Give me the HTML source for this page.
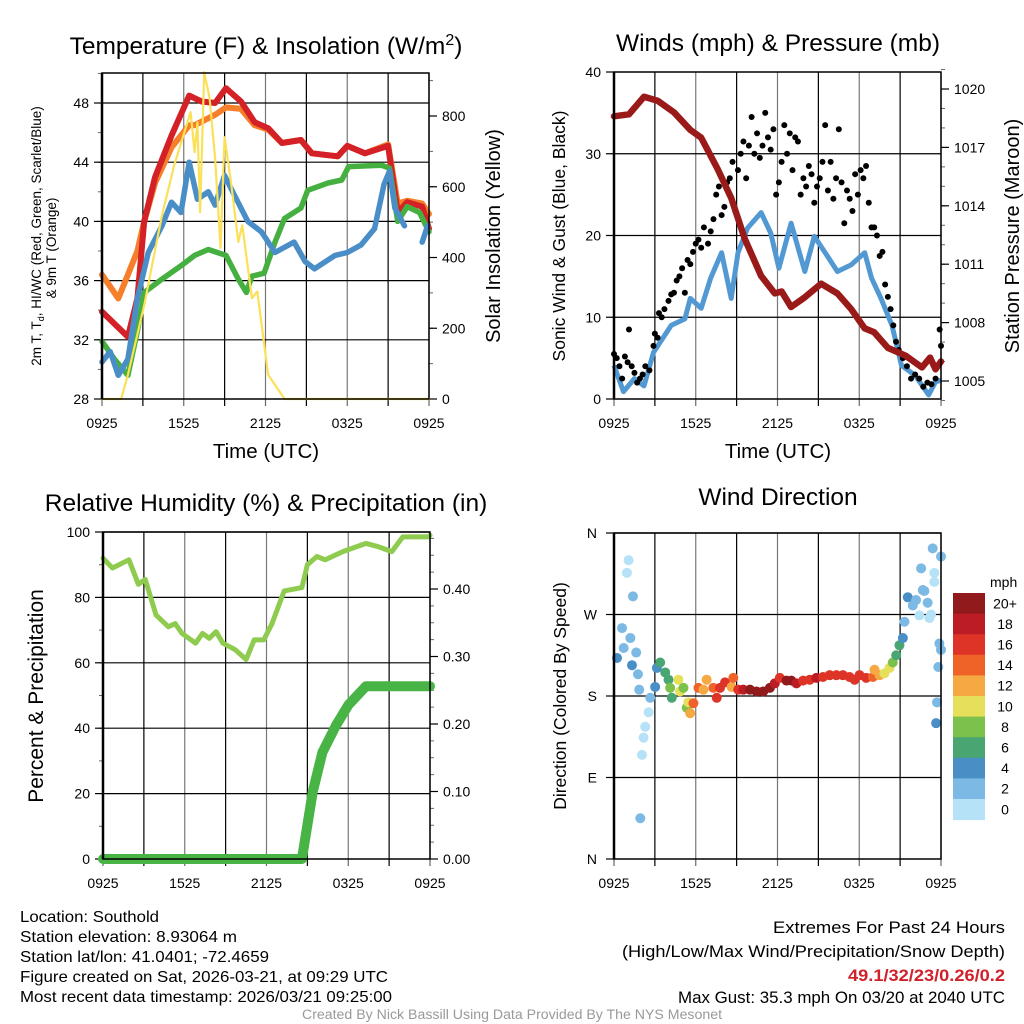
<!DOCTYPE html>
<html><head><meta charset="utf-8"><style>
html,body{margin:0;padding:0;background:#fff;}
svg{display:block;font-family:"Liberation Sans",Arial,sans-serif;}
</style></head><body>
<svg id="s" width="1024" height="1024" viewBox="0 0 1024 1024" xmlns="http://www.w3.org/2000/svg">
<rect width="1024" height="1024" fill="#fff"/>
<g id="g1"></g>
<g id="g2"></g>
<g id="g3"></g>
<g id="g4"></g>

<text x="266" y="54" font-size="24.5" text-anchor="middle">Temperature (F) &amp; Insolation (W/m<tspan dy="-9" font-size="16">2</tspan><tspan dy="9">)</tspan></text>
<text x="778" y="51" font-size="24.5" text-anchor="middle">Winds (mph) &amp; Pressure (mb)</text>
<text x="266" y="511" font-size="24.5" text-anchor="middle">Relative Humidity (%) &amp; Precipitation (in)</text>
<text x="778" y="505" font-size="24.5" text-anchor="middle">Wind Direction</text>

<text x="266" y="458" font-size="20.5" text-anchor="middle">Time (UTC)</text>
<text x="778" y="458" font-size="20.5" text-anchor="middle">Time (UTC)</text>

<text transform="translate(41,236) rotate(-90)" font-size="13.5" text-anchor="middle">2m T, T<tspan font-size="9" dy="3">d</tspan><tspan dy="-3">, HI/WC (Red, Green, Scarlet/Blue)</tspan></text>
<text transform="translate(56,248) rotate(-90)" font-size="13.5" text-anchor="middle">&amp; 9m T (Orange)</text>
<text transform="translate(500,236) rotate(-90)" font-size="20" text-anchor="middle">Solar Insolation (Yellow)</text>
<text transform="translate(565,236) rotate(-90)" font-size="17.5" text-anchor="middle">Sonic Wind &amp; Gust (Blue, Black)</text>
<text transform="translate(1019,236) rotate(-90)" font-size="20" text-anchor="middle">Station Pressure (Maroon)</text>
<text transform="translate(43,696) rotate(-90)" font-size="21" text-anchor="middle">Percent &amp; Precipitation</text>
<text transform="translate(566,696) rotate(-90)" font-size="17.5" text-anchor="middle">Direction (Colored By Speed)</text>

<g font-size="16">
<text x="20" y="922" textLength="139" lengthAdjust="spacingAndGlyphs">Location: Southold</text>
<text x="20" y="942" textLength="217" lengthAdjust="spacingAndGlyphs">Station elevation: 8.93064 m</text>
<text x="20" y="962" textLength="249" lengthAdjust="spacingAndGlyphs">Station lat/lon: 41.0401; -72.4659</text>
<text x="20" y="982" textLength="368" lengthAdjust="spacingAndGlyphs">Figure created on Sat, 2026-03-21, at 09:29 UTC</text>
<text x="20" y="1002" textLength="372" lengthAdjust="spacingAndGlyphs">Most recent data timestamp: 2026/03/21 09:25:00</text>
</g>
<g font-size="17">
<text x="773" y="933" textLength="232" lengthAdjust="spacingAndGlyphs">Extremes For Past 24 Hours</text>
<text x="622" y="957" textLength="383" lengthAdjust="spacingAndGlyphs">(High/Low/Max Wind/Precipitation/Snow Depth)</text>
<text x="848" y="981" textLength="157" lengthAdjust="spacingAndGlyphs" fill="#d0222a" font-weight="bold">49.1/32/23/0.26/0.2</text>
<text x="678" y="1003" textLength="327" lengthAdjust="spacingAndGlyphs">Max Gust: 35.3 mph On 03/20 at 2040 UTC</text>
</g>
<text x="302" y="1019" font-size="13.5" textLength="420" lengthAdjust="spacingAndGlyphs" fill="#999">Created By Nick Bassill Using Data Provided By The NYS Mesonet</text>
</svg>
<script>
// ---------- data ----------
const timeTickLabels = ["0925","1525","2125","0325","0925"];
// Panel 1 (hours since 0925 UTC)
const tempT   = [0,1.9,2.6,3.1,3.9,5.1,6.4,7.3,8.3,9.1,10.2,11.2,12.2,13.2,14.6,15.4,17.3,18,19.3,21,21.7,22.4,23.5,24];
const tempRed = [33.9,32.2,34.8,40,43,45.8,48.5,48.1,48,49,48.1,46.7,46.3,45.3,45.5,44.6,44.4,45.1,44.6,45.1,40.6,41.3,41,39.5];
const temp9mT = [0,1.2,1.9,2.6,3.1,3.9,5.1,6.4,6.8,8.3,9.1,10.2,11.2,12.2,13.2,14.6,15.4,17.3,18,19.3,21,21.7,22.4,23.5,24];
const temp9m  = [36.4,34.8,36.4,38,40,42.6,45,46.5,46.5,47.2,47.7,47.6,46.5,46.2,45.3,45.5,44.6,44.4,45.1,44.6,45.2,41.2,41.4,41.2,40.5];
const dewT    = [0,0.9,1.9,2.6,3.1,4.4,5.8,6.8,7.8,9.1,10,10.6,11,11.9,12.7,13.4,14.6,15.1,16.6,17.6,18.1,20.5,21.1,21.7,22.4,23.3,24];
const dewV    = [31.9,30.7,29.6,32.6,35.2,36.1,37,37.7,38.1,37.7,36.1,35.2,36.3,36.5,38.6,40.2,40.9,42.1,42.6,42.8,43.7,43.8,43.6,40,41,40.6,39.3];
const hiwcT   = [0,0.6,1.2,1.9,2.6,3.4,4.4,5.1,5.8,6.4,7,7.8,8.3,9,9.7,10.7,11.7,12.7,14.1,14.9,15.6,17.1,18,19,20,20.7,21.1,21.5,22.2,22.3,23.4,23.5,23.9];
const hiwcV   = [30.5,31.2,29.6,30.7,34.8,37.9,39.7,41.3,40.6,44,41.5,42,41.1,43.1,41.8,40,39.3,37.9,38.6,37.3,36.8,37.7,37.9,38.4,39.5,42.5,43.4,40.9,39.7,null,null,38.6,39.7];
const solT    = [0,1.4,1.9,3.1,4.4,5.3,6.5,6.8,7,7.2,7.5,7.9,8.3,8.7,9,9.5,10,10.3,11,11.4,12.2,13.4,24];
const solV    = [0,0,68,265,520,661,811,698,782,528,924,850,681,427,740,604,444,491,285,304,68,0,0];
// Panel 2
const presT = [0,1.1,2.2,3.2,4.4,5.6,6.4,7.6,8.6,9.6,10.8,11.8,12.3,13,14,15.2,16.4,17.4,18.4,19.1,20.1,21.4,22.6,23.2,23.6,24];
const presV = [1018.6,1018.7,1019.6,1019.4,1018.8,1017.9,1017.5,1015.9,1014.4,1012.3,1010.4,1009.5,1009.6,1008.8,1009.3,1010,1009.5,1008.7,1007.7,1007.5,1006.7,1006.3,1005.7,1006.2,1005.6,1006];
const windT = [0,0.7,1.5,2.2,2.9,4.2,5.2,5.6,6.4,7.1,7.9,8.6,9.1,9.8,10.8,11.5,12.1,13,14,14.7,15.5,16.4,17.4,18.4,18.9,19.6,20.4,21.1,22.1,23.1,23.6,24];
const windV = [4.1,0.9,2.5,1.6,5.7,9,9.8,12.3,11.1,14.8,17.9,12.3,17.9,20.9,22.8,20.3,16,21.5,15.6,19.9,17.9,15.6,16.4,17.9,14.8,12.3,9,4.1,2.9,0.5,2.1,2.3];
const gustT = [0,0.2,0.4,0.6,0.8,1,1.1,1.3,1.5,1.7,1.9,2.1,2.3,2.6,2.9,3,3.2,3.3,3.5,3.7,4,4.2,4.4,4.6,4.8,5,5.2,5.4,5.6,5.8,6,6.2,6.4,6.6,6.9,7.1,7.3,7.5,7.7,7.9,8.1,8.3,8.5,8.7,8.9,9.1,9.3,9.5,9.7,9.9,10.1,10.3,10.5,10.7,10.9,11.1,11.3,11.5,11.7,11.9,12.1,12.3,12.5,12.7,12.9,13.1,13.3,13.5,13.7,13.9,14.1,14.3,14.5,14.7,14.9,15.1,15.3,15.5,15.7,15.9,16.1,16.3,16.5,16.7,16.9,17.1,17.3,17.5,17.7,17.9,18.1,18.3,18.5,18.7,18.9,19.1,19.3,19.5,19.7,19.9,20.1,20.3,20.5,20.7,20.9,21.2,21.5,21.8,22.1,22.4,22.7,23,23.3,23.6,23.9,24];
const gustV = [5.5,5,4,2.5,5.2,4.5,8.5,4,3.2,2,2.5,3,4,3.5,6.5,8,7.5,10.5,10,11,12,12.8,13,14.5,15,16,13,17,16.5,18,19,19.5,18.5,21,19,20.5,22,25,26,22.5,23.5,26.5,27,29,23,28,30,31.5,27,31,34.5,30,32.5,29.5,31,35,32,30.5,33,25,26.5,29,33.5,30,32.5,28,32,31.5,25,27,26,28.5,27.5,24,26,27,29,33.5,25.5,29,24.5,27,33,26.5,21.5,25.5,24.5,23,27.5,25,28,27,28.5,24,21,21,20,17.5,18,14,12.5,11,9,7,6,5,4,2.5,3,2.5,1.5,2,1.8,2.5,8.5,6.5];
// Panel 3
const rhT = [0,0.7,1.9,2.6,3.1,3.9,4.8,5.3,5.8,6.8,7.3,7.8,8.3,8.8,9.7,10.5,11.1,11.8,12.4,13.3,14.6,15,15.7,16.3,17.6,19.3,20.2,21.2,22,23.9,24];
const rhV = [92,89,91.5,84,85.5,74.6,71,72,69,66,69,67.5,69.5,66,64,61,67,67,72,82,83,90,92.5,91.5,94,96.5,95.5,94,98.5,98.5,99];
const pcpT = [0,14.6,15.4,16.1,17.1,18,19.3,24];
const pcpV = [0,0,0.1,0.158,0.198,0.228,0.256,0.256];
// Panel 4
const dirT = [0.22,0.59,0.71,0.95,1.07,1.2,1.32,1.39,1.63,1.76,1.85,1.93,2.05,2.17,2.29,2.54,2.66,3.02,3.15,3.39,3.76,4.0,4.12,4.24,4.73,4.85,5.1,5.34,5.46,5.59,5.83,6.2,6.56,6.8,7.29,7.54,7.78,8.15,8.63,8.76,9.12,9.49,9.98,10.46,10.95,11.44,11.8,12.17,12.66,13.02,13.39,13.88,14.37,14.85,15.34,15.83,16.32,16.8,17.29,17.66,18.02,18.51,19.0,19.12,19.49,19.85,20.22,20.46,20.71,20.95,21.2,21.32,21.56,21.93,22.17,22.41,22.54,22.66,22.78,23.02,23.15,23.27,23.39,23.51,23.51,23.71,23.64,23.8,23.88,24.0,24.0];
const dirV = [222,255,233,316,330,244,214,290,228,204,187,45,115,134,146,162,178,190,211,217,206,198,189,178,198,185,189,167,173,161,172,189,187,198,189,178,189,195,190,200,187,187,187,185,185,189,194,200,197,197,194,197,198,200,201,203,203,203,201,198,203,200,201,209,203,205,211,217,225,236,244,262,289,280,286,269,321,297,296,283,266,270,343,316,306,173,150,212,238,231,334];
const dirS = [4,3,3,1,1,3,4,3,3,3,3,3,1,1,1,1,3,4,4,6,6,6,8,7,10,10,8,9,10,12,14,15,12,12,14,16,16,16,12,14,17,19,20,20,20,20,18,16,20,20,18,17,16,18,16,16,17,16,16,16,17,16,14,13,12,11,10,8,7,6,4,3,5,3,3,1,3,3,2,3,1,1,3,1,1,3,4,3,3,3,3];
const dirLabels = ["N","E","S","W","N"];
const speedColors = ["#b5e2f6","#7cb9e4","#4a8ec6","#49a673","#7cc14b","#e5df5a","#f6a843","#ef6329","#dd3427","#bc1d24","#911a1c"];
const speedLabels = ["0","2","4","6","8","10","12","14","16","18","20+"];
const tempTicks = [28,32,36,40,44,48];
const solTicks = [0,200,400,600,800];
const windTicks = [0,10,20,30,40];
const presTicks = [1005,1008,1011,1014,1017,1020];
const rhTicks = [0,20,40,60,80,100];
const pcpTicks = [0,0.1,0.2,0.3,0.4];
</script>
<script>
const NS="http://www.w3.org/2000/svg";
function mk(parent,tag,attrs){const e=document.createElementNS(NS,tag);for(const k in attrs)e.setAttribute(k,attrs[k]);parent.appendChild(e);return e;}
function lin(d0,d1,r0,r1){return v=>r0+(v-d0)*(r1-r0)/(d1-d0);}
function pathFrom(ts,vs,sx,sy){let d="",pen=false;for(let i=0;i<ts.length;i++){if(vs[i]===null){pen=false;continue;}d+=(pen?"L":"M")+sx(ts[i]).toFixed(1)+","+sy(vs[i]).toFixed(1);pen=true;}return d;}

function frame(g,L,T,R,B,hLines){
  const sx=lin(0,24,L,R);
  for(let k=0;k<=8;k++){const x=sx(k*3);
    const v=mk(g,"line",{x1:x,y1:T,x2:x,y2:B,stroke:k%2?"#000":"#777","stroke-width":1.2});
    
    
    const t=mk(g,"line",{x1:x,y1:B,x2:x,y2:B+7,stroke:k%2?"#000":"#666","stroke-width":1.2});
    
    }
  hLines.forEach(y=>{const h=mk(g,"line",{x1:L,y1:y,x2:R,y2:y,stroke:"#000","stroke-width":1.2});
    
    });
  timeTickLabels.forEach((s,i)=>{const t=mk(g,"text",{x:sx(i*6),y:B+29,"font-size":14,"text-anchor":"middle"});t.textContent=s;
    
    });
  return sx;
}
function border(g,L,T,R,B){
  const r=mk(g,"rect",{x:L,y:T,width:R-L,height:B-T,fill:"none",stroke:"#000","stroke-width":1.5});
  
  
  const l=mk(g,"line",{x1:L,y1:T,x2:L,y2:B,stroke:"#000","stroke-width":2.5});
  
  
}
function yTicks(g,x,ticks,sy,side,fmt,minorStep,lo,hi){
  for(let v=lo;v<=hi+1e-9;v+=minorStep){const y=sy(v);
    const m=mk(g,"line",{x1:x,y1:y,x2:x+(side<0?-4:4),y2:y,stroke:"#666","stroke-width":1});
    
    }
  ticks.forEach(v=>{const y=sy(v);
    const t=mk(g,"line",{x1:x,y1:y,x2:x+(side<0?-8:8),y2:y,stroke:"#000","stroke-width":1.2});
    
    
    const lb=mk(g,"text",{x:x+(side<0?-13:13),y:y+5,"font-size":14,"text-anchor":side<0?"end":"start"});lb.textContent=fmt(v);
    
    });
}

// ===== Panel 1 =====
(function(){
  const g=document.getElementById("g1"),L=102,T=73,R=429,B=399;
  const sy=lin(28,48,399,103), sw=lin(0,800,399,116);
  const sx=frame(g,L,T,R,B,[44,40,36,32].map(sy).concat([sy(48)]));
  yTicks(g,L,tempTicks,sy,-1,v=>v,2,28,50);
  yTicks(g,R,solTicks,sw,1,v=>v,100,0,900);
  const series=[["orange-9m-temp-line",temp9mT,temp9m,"#f57f2a",6,sy],["red-temp-line",tempT,tempRed,"#d42027",6,sy],
    ["green-dewpoint-line",dewT,dewV,"#45b040",5.5,sy],["blue-hiwc-line",hiwcT,hiwcV,"#4a8ec8",5.5,sy],["yellow-insolation-line",solT,solV,"#fbe05a",2.2,sw]];
  series.forEach(s=>{const p=mk(g,"path",{d:pathFrom(s[1],s[2],sx,s[5]),fill:"none",stroke:s[3],"stroke-width":s[4],"stroke-linejoin":"round","stroke-linecap":"round"});
    
    });
  border(g,L,T,R,B);
})();
// ===== Panel 2 =====
(function(){
  const g=document.getElementById("g2"),L=614,T=72,R=941,B=399;
  const sy=lin(0,40,399,72), sp=lin(1005,1020,381,89);
  const sx=frame(g,L,T,R,B,[10,20,30].map(sy));
  yTicks(g,L,windTicks,sy,-1,v=>v,10,0,40);
  yTicks(g,R,presTicks,sp,1,v=>v,1,1004,1021);
  let p=mk(g,"path",{d:pathFrom(windT,windV,sx,sy),fill:"none",stroke:"#5299d3","stroke-width":5,"stroke-linejoin":"round"});
  
  
  gustT.forEach((t,i)=>{const c=mk(g,"circle",{cx:sx(t),cy:sy(gustV[i]),r:3,fill:"#000"});
    
    });
  p=mk(g,"path",{d:pathFrom(presT,presV,sx,sp),fill:"none",stroke:"#9a1a1a","stroke-width":6.5,"stroke-linejoin":"round","stroke-linecap":"round"});
  
  
  border(g,L,T,R,B);
})();
// ===== Panel 3 =====
(function(){
  const g=document.getElementById("g3"),L=103,T=532,R=430,B=859;
  const sy=lin(0,100,859,532), sq=lin(0,0.4,859,589);
  const sx=frame(g,L,T,R,B,[20,40,60,80,100].map(sy));
  yTicks(g,L,rhTicks,sy,-1,v=>v,10,0,100);
  yTicks(g,R,pcpTicks,sq,1,v=>v.toFixed(2),0.025,0,0.475);
  let p=mk(g,"path",{d:pathFrom(rhT,rhV,sx,sy),fill:"none",stroke:"#8fcb4f","stroke-width":5,"stroke-linejoin":"round","stroke-linecap":"round"});
  
  
  p=mk(g,"path",{d:pathFrom(pcpT,pcpV,sx,sq),fill:"none",stroke:"#49b446","stroke-width":10,"stroke-linejoin":"round","stroke-linecap":"round"});
  
  
  border(g,L,T,R,B);
})();
// ===== Panel 4 =====
(function(){
  const g=document.getElementById("g4"),L=614,T=533,R=941,B=859;
  const sy=lin(0,360,859,533);
  const sx=frame(g,L,T,R,B,[90,180,270,360].map(sy));
  dirLabels.forEach((s,i)=>{const y=sy(i*90);
    const t=mk(g,"line",{x1:L,y1:y,x2:L-8,y2:y,stroke:"#000","stroke-width":1.2});
    
    
    const lb=mk(g,"text",{x:L-17,y:y+5,"font-size":14,"text-anchor":"end"});lb.textContent=s;
    
    });
  dirT.forEach((t,i)=>{const bin=Math.min(10,Math.floor(dirS[i]/2));
    const c=mk(g,"circle",{cx:sx(Math.min(24,t)),cy:sy(dirV[i]),r:5,fill:speedColors[bin]});
    
    });
  border(g,L,T,R,B);
  const top=593,h=20.6;
  const u=mk(g,"text",{x:990,y:587,"font-size":14});u.textContent="mph";
  
  
  for(let i=0;i<11;i++){const k=10-i;
    const r=mk(g,"rect",{x:953,y:top+i*h,width:32,height:h+0.5,fill:speedColors[k]});
    
    
    const lb=mk(g,"text",{x:1005,y:top+i*h+h/2+5,"font-size":14,"text-anchor":"middle"});lb.textContent=speedLabels[k];
    
    }
})();
</script>
</body></html>
